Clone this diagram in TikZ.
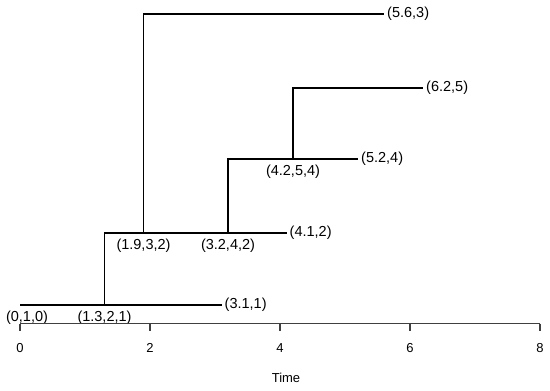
\documentclass[tikz,border=0pt]{standalone}
\usepackage{fontspec}
\setmainfont{Liberation Sans}
\begin{document}
\begin{tikzpicture}[x=1pt,y=-1pt,
  branch/.style={line width=1.6pt,black},
  axisline/.style={line width=1.1pt,black!75},
  lbl/.style={font=\fontsize{14.5}{15}\selectfont,inner sep=0pt},
  axlbl/.style={font=\fontsize{13}{14}\selectfont,inner sep=0pt},
  endlbl/.style={lbl,anchor=west,xshift=3pt},
  evlbl/.style={lbl,anchor=center}]
\useasboundingbox (0,0) rectangle (550,391);
% tree points (x = 20 + 65 t)
\coordinate (n0) at (20,305);
\coordinate (n1) at (104.5,305);
\coordinate (e1) at (221.5,305);
\coordinate (v1) at (104.5,233);
\coordinate (n2) at (143.5,233);
\coordinate (n3) at (228,233);
\coordinate (e2) at (286.5,233);
\coordinate (v2) at (143.5,14);
\coordinate (e3) at (384,14);
\coordinate (v3) at (228,159);
\coordinate (n4) at (293,159);
\coordinate (e4) at (358,159);
\coordinate (v4) at (293,88);
\coordinate (e5) at (423,88);
% branches
\draw[branch] (n0) -- (e1);
\draw[branch] (n1) -- (v1) -- (e2);
\draw[branch] (n2) -- (v2) -- (e3);
\draw[branch] (n3) -- (v3) -- (e4);
\draw[branch] (n4) -- (v4) -- (e5);
% end labels
\node[endlbl] (l1) at (e1) {(3.1,1)};
\node[endlbl] (l2) at (e2) {(4.1,2)};
\node[endlbl] (l3) at (e3) {(5.6,3)};
\node[endlbl] (l4) at (e4) {(5.2,4)};
\node[endlbl] (l5) at (e5) {(6.2,5)};
% event labels
\node[evlbl] (a0) at (27,318) {(0,1,0)};
\node[evlbl] (a1) at (104.5,318) {(1.3,2,1)};
\node[evlbl] (a2) at (143.5,246) {(1.9,3,2)};
\node[evlbl] (a3) at (228,246) {(3.2,4,2)};
\node[evlbl] (a4) at (293,172) {(4.2,5,4)};
% axis
\coordinate (ax0) at (20,323.5);
\coordinate (ax8) at (540,323.5);
\draw[axisline] (ax0) -- (ax8);
\foreach \t [count=\i from 0] in {0,2,4,6,8} {
  \coordinate (tk\i) at ({20+65*\t},323.5);
  \draw[axisline] (tk\i) -- ++(0,7);
  \node[axlbl] (tl\i) at ({20+65*\t},348) {\t};
}
\node[axlbl] (xlab) at (286,378) {Time};
\end{tikzpicture}
\end{document}
